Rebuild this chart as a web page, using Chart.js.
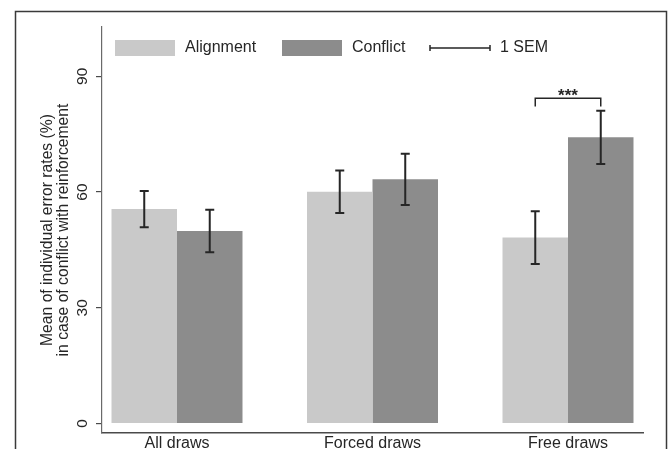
<html>
<head>
	<title>Error rates chart</title>
	<script type="text/javascript" src="https://cdn.jsdelivr.net/npm/chart.js@4/dist/chart.umd.min.js"></script>
	<style>
		html, body { margin: 0; padding: 0; overflow: hidden; background: #fff; }
	</style>
</head>
<body>
	<canvas id="canvas" width="670" height="470"></canvas>
	<script type="text/javascript">
		// values
		var categories   = ["All draws", "Forced draws", "Free draws"];
		var alignment    = [55.6, 60.1, 48.2];
		var conflict     = [49.9, 63.3, 74.2];
		var alignmentSem = [4.7, 5.5, 6.85];
		var conflictSem  = [5.5, 6.65, 6.9];
		var yTicks       = [0, 30, 60, 90];
		var sigIndex     = 2;      // Free draws
		var sigLevel     = 84.3;
		var sigFoot      = 82.2;
		var sigLabel     = "***";

		var FONT = "'Liberation Sans', Arial, Helvetica, sans-serif";
		var INK  = "#262626";

		function points(arr) {
			var out = [];
			for (var i = 0; i < arr.length; i++) out.push({x: i, y: arr[i]});
			return out;
		}

		var errorBars = {
			id: "errorBars",
			afterDatasetsDraw: function(chart) {
				var ctx = chart.ctx, y = chart.scales.y;
				var sems = [alignmentSem, conflictSem];
				ctx.save();
				ctx.strokeStyle = INK;
				ctx.lineWidth = 2;
				for (var d = 0; d < sems.length; d++) {
					var meta = chart.getDatasetMeta(d);
					meta.data.forEach(function(bar, i) {
						var v = chart.data.datasets[d].data[i].y;
						var top = y.getPixelForValue(v + sems[d][i]);
						var bot = y.getPixelForValue(v - sems[d][i]);
						ctx.beginPath();
						ctx.moveTo(bar.x, top); ctx.lineTo(bar.x, bot);
						ctx.moveTo(bar.x - 4.5, top); ctx.lineTo(bar.x + 4.5, top);
						ctx.moveTo(bar.x - 4.5, bot); ctx.lineTo(bar.x + 4.5, bot);
						ctx.stroke();
					});
				}
				// significance bracket
				var a = chart.getDatasetMeta(0).data[sigIndex];
				var c = chart.getDatasetMeta(1).data[sigIndex];
				var ly = y.getPixelForValue(sigLevel), fy = y.getPixelForValue(sigFoot);
				ctx.lineWidth = 1.5;
				ctx.beginPath();
				ctx.moveTo(a.x, fy); ctx.lineTo(a.x, ly); ctx.lineTo(c.x, ly); ctx.lineTo(c.x, fy);
				ctx.stroke();
				ctx.fillStyle = INK;
				ctx.font = "bold 17px " + FONT;
				ctx.textAlign = "center";
				ctx.textBaseline = "bottom";
				ctx.fillText(sigLabel, (a.x + c.x) / 2, ly + 6);
				ctx.restore();
			}
		};

		var legendBox = {
			id: "legendBox",
			afterDraw: function(chart) {
				var ctx = chart.ctx, ds = chart.data.datasets;
				var cy = 48;
				ctx.save();
				ctx.font = "16px " + FONT;
				ctx.textBaseline = "middle";
				ctx.textAlign = "left";
				var xs = [115, 282];
				for (var d = 0; d < ds.length; d++) {
					ctx.fillStyle = ds[d].backgroundColor;
					ctx.fillRect(xs[d], cy - 8, 60, 16);
					ctx.fillStyle = INK;
					ctx.fillText(ds[d].label, xs[d] + 70, cy);
				}
				ctx.strokeStyle = INK;
				ctx.lineWidth = 1.5;
				ctx.beginPath();
				ctx.moveTo(430, cy); ctx.lineTo(490, cy);
				ctx.moveTo(430, cy - 3); ctx.lineTo(430, cy + 3);
				ctx.moveTo(490, cy - 3); ctx.lineTo(490, cy + 3);
				ctx.stroke();
				ctx.fillText("1 SEM", 500, cy);
				// outer frame
				ctx.strokeStyle = "#3a3a3a";
				ctx.lineWidth = 1.5;
				ctx.strokeRect(15.5, 11.5, 651, 500);
				ctx.restore();
			}
		};

		var ctx = document.getElementById("canvas").getContext("2d");
		var chart = new Chart(ctx, {
			type: "bar",
			data: {
				datasets: [
					{label: "Alignment", data: points(alignment), backgroundColor: "#c9c9c9"},
					{label: "Conflict",  data: points(conflict),  backgroundColor: "#8c8c8c"}
				]
			},
			options: {
				responsive: false,
				animation: false,
				events: [],
				layout: {padding: {left: 0, top: 27, right: 27, bottom: 7}},
				datasets: {bar: {categoryPercentage: 0.67, barPercentage: 1.0, borderWidth: 0}},
				plugins: {legend: {display: false}, tooltip: {enabled: false}},
				scales: {
					x: {
						type: "linear",
						offset: false,
						min: -0.3836,
						max: 2.3836,
						afterBuildTicks: function(scale) {
							scale.ticks = categories.map(function(c, i) { return {value: i}; });
						},
						afterFit: function(scale) { scale.height = 30; },
						grid: {display: false, drawTicks: false},
						border: {display: true, color: "#4a4a4a", width: 1.5},
						ticks: {
							padding: 1,
							color: INK,
							font: {family: FONT, size: 16},
							maxRotation: 0,
							callback: function(v) { return categories[v]; }
						}
					},
					y: {
						min: -2.46,
						max: 102.8,
						afterBuildTicks: function(scale) {
							scale.ticks = yTicks.map(function(v) { return {value: v}; });
						},
						afterFit: function(scale) { scale.width = 102; },
						grid: {drawOnChartArea: false, drawTicks: true, tickLength: 6, color: "#4a4a4a", lineWidth: 1.2},
						border: {display: true, color: "#6a6a6a", width: 1.2},
						ticks: {
							color: INK,
							font: {family: FONT, size: 15.5},
							minRotation: 90,
							maxRotation: 90,
							crossAlign: "center",
							padding: 5
						},
						title: {
							display: true,
							text: ["Mean of individual error rates (%)", "in case of conflict with reinforcement"],
							color: INK,
							font: {family: FONT, size: 15.7, lineHeight: "16px"},
							padding: {top: 40, bottom: 0}
						}
					}
				}
			},
			plugins: [errorBars, legendBox]
		});
	</script>
</body>
</html>
